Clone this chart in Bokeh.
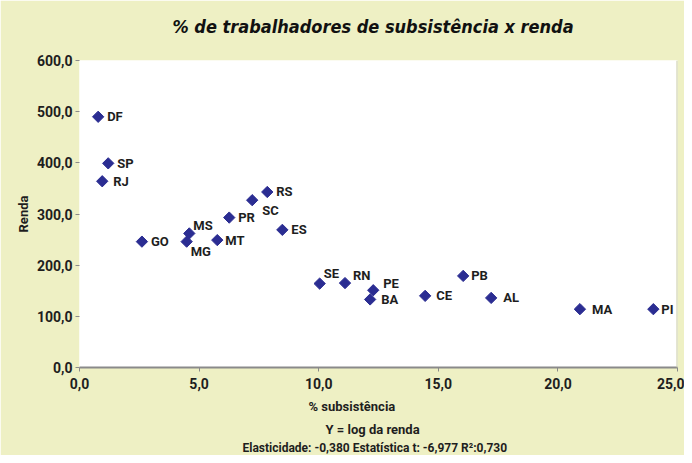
import math
from bokeh.plotting import figure
from bokeh.models import ColumnDataSource, FixedTicker, Span, Title
from bokeh.core.properties import value
from bokeh.embed import file_html
from bokeh.resources import INLINE

# ---- data ----
states = ["DF", "SP", "RJ", "RS", "SC", "PR", "ES", "GO", "MS", "MG", "MT",
          "SE", "RN", "PE", "BA", "CE", "PB", "AL", "MA", "PI"]
subsistencia = [0.78, 1.2, 0.95, 7.85, 7.22, 6.26, 8.48, 2.61, 4.59, 4.48, 5.76,
                10.04, 11.1, 12.28, 12.15, 14.45, 16.04, 17.21, 20.92, 23.99]
renda = [490, 399, 364, 343, 327, 293, 269, 246, 262, 246, 249,
         164, 165, 151, 133, 140, 179, 136, 114, 114]
x_ticks = [0, 5, 10, 15, 20, 25]
x_tick_labels = ["0,0", "5,0", "10,0", "15,0", "20,0", "25,0"]
y_ticks = [0, 100, 200, 300, 400, 500, 600]
y_tick_labels = ["0,0", "100,0", "200,0", "300,0", "400,0", "500,0", "600,0"]
title_text = "% de trabalhadores de subsistência x renda"
x_title = "% subsistência"
y_title = "Renda"
note1 = "Y = log da renda"
note2 = "Elasticidade: -0,380  Estatística t: -6,977  R²:0,730"

# ---- label placement (pixel offsets of each state label) ----
label_dx = [9, 9, 11, 9, 10, 9, 9, 9, 4, 4, 8, 4, 8, 10, 11, 11, 8, 12, 12, 8]
label_dy = [0, 0, 0, 0, 10, 0, 0, 0, -8, 10, 0, -10, -8, -7, 0, 0, 0, 0, 0, 0]

FONT = "Roboto"
BG = "#eef0c4"
INK = "#1e1e1e"

src = ColumnDataSource(dict(x=subsistencia, y=renda, name=states,
                            dx=label_dx, dy=label_dy))

p = figure(width=684, height=455, output_backend="svg", toolbar_location=None,
           title=None, x_range=(0, 25), y_range=(0, 600),
           min_border_left=79, min_border_right=7,
           min_border_top=60, min_border_bottom=87)
p.background_fill_color = "white"
p.border_fill_color = BG
p.outline_line_color = None
p.grid.visible = False

p.scatter("x", "y", source=src, marker="square", size=8, angle=math.pi / 4,
          fill_color="#2b2d92", line_color="#2b2d92")
p.text("x", "y", text="name", source=src, x_offset="dx", y_offset="dy",
       text_font=value(FONT), text_font_size="13px", text_font_style="bold",
       text_color=INK, text_baseline="middle", text_align="left")

# axes
p.xaxis.ticker = FixedTicker(ticks=x_ticks)
p.xaxis.major_label_overrides = {t: l for t, l in zip(x_ticks, x_tick_labels)}
p.yaxis.ticker = FixedTicker(ticks=y_ticks)
p.yaxis.major_label_overrides = {t: l for t, l in zip(y_ticks, y_tick_labels)}
for ax in (p.xaxis[0], p.yaxis[0]):
    ax.major_label_text_font = FONT
    ax.major_label_text_font_size = "14px"
    ax.major_label_text_font_style = "bold"
    ax.major_label_text_color = INK
    ax.minor_tick_line_color = None
    ax.major_tick_in = 0
    ax.major_tick_out = 4
    ax.major_tick_line_color = "#8a8a8a"
    ax.major_label_standoff = 3
p.xaxis.major_label_standoff = 6
p.xaxis.axis_line_color = "#8a8a8a"
p.xaxis.axis_line_width = 2
p.yaxis.axis_line_color = None

# right edge line of the plot area
p.add_layout(Span(location=25, dimension="height", line_color="#c9cca6", line_width=2))

def side_title(text, place, align, offset, standoff, size="13px", font=FONT,
               style="bold", color=INK):
    t = Title(text=text, align=align, offset=offset, standoff=standoff,
              text_font=font, text_font_size=size, text_font_style=style,
              text_color=color)
    p.add_layout(t, place)

# spacer between plot area and the main title, then the main title
side_title(" ", "above", "center", 0, 19, size="1px")
side_title(title_text, "above", "left", 93, 4, size="18px",
           font="DejaVu Sans Condensed", style="bold italic", color="#111111")

side_title(y_title, "left", "center", 0, 6)
side_title(x_title, "below", "left", 229, 10)
side_title(note1, "below", "left", 246, 3)
side_title(note2, "below", "left", 163, 1, size="12px")

open("out.html", "w").write(file_html(p, INLINE))
